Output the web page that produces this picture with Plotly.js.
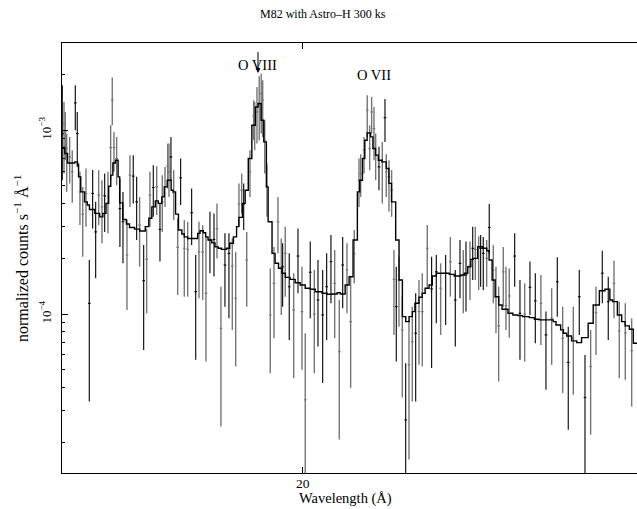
<!DOCTYPE html>
<html>
<head>
<meta charset="utf-8">
<script src="https://cdn.plot.ly/plotly-3.0.1.min.js"></script>
<style>
html,body{margin:0;padding:0;overflow:hidden;background:#fff;}
#chart{width:660px;height:509px;}
</style>
</head>
<body>
<div id="chart"></div>
<script>
// ---- Data (wavelength in Angstrom, flux in counts s^-1 A^-1) ----
const modelWl = [15.00,15.05,15.10,15.23,15.28,15.30,15.34,15.41,15.46,15.50,15.60,15.69,15.75,15.81,15.86,15.90,15.94,15.99,16.04,16.07,16.13,16.20,16.26,16.36,16.46,16.57,16.64,16.70,16.77,16.83,16.90,16.95,17.01,17.09,17.13,17.18,17.24,17.31,17.36,17.43,17.64,17.69,17.76,17.81,17.86,17.94,18.01,18.08,18.15,18.26,18.33,18.41,18.48,18.53,18.61,18.67,18.74,18.82,18.90,18.96,19.03,19.09,19.15,19.19,19.28,19.35,19.43,19.51,19.59,19.70,19.82,19.94,20.06,20.18,20.30,20.47,20.59,20.71,20.84,20.92,21.04,21.14,21.24,21.35,21.41,21.48,21.54,21.60,21.69,21.75,21.82,21.89,21.99,22.10,22.17,22.24,22.35,22.44,22.53,22.62,22.71,22.80,22.87,22.98,23.07,23.15,23.26,23.35,23.46,23.83,23.97,24.16,24.26,24.36,24.45,24.52,24.65,24.80,24.92,24.99,25.08,25.17,25.28,25.38,25.56,25.71,25.86,26.01,26.22,26.38,26.53,26.98,27.07,27.22,27.31,27.42,27.58,27.75,27.91,28.13,28.30,28.51,28.70,28.87,28.97,29.13,29.28,29.40,29.55,29.69,30.00];
const modelFlux = [8.05e-4,7.47e-4,6.64e-4,6.73e-4,6.54e-4,5.58e-4,4.62e-4,4.08e-4,3.92e-4,3.71e-4,3.53e-4,3.38e-4,3.53e-4,4.00e-4,4.96e-4,5.70e-4,6.64e-4,6.87e-4,5.58e-4,4.03e-4,3.27e-4,3.09e-4,2.96e-4,2.90e-4,2.83e-4,2.99e-4,3.32e-4,3.83e-4,4.13e-4,4.00e-4,4.34e-4,4.92e-4,5.35e-4,4.72e-4,4.62e-4,3.50e-4,2.87e-4,2.73e-4,2.63e-4,2.58e-4,2.75e-4,2.84e-4,2.77e-4,2.63e-4,2.53e-4,2.44e-4,2.32e-4,2.28e-4,2.25e-4,2.28e-4,2.43e-4,2.63e-4,2.99e-4,3.36e-4,4.00e-4,4.72e-4,7.02e-4,1.064e-3,1.339e-3,1.397e-3,1.133e-3,8.64e-4,4.92e-4,3.18e-4,2.14e-4,1.89e-4,1.775e-4,1.667e-4,1.585e-4,1.546e-4,1.482e-4,1.440e-4,1.382e-4,1.365e-4,1.324e-4,1.298e-4,1.282e-4,1.287e-4,1.308e-4,1.287e-4,1.440e-4,1.597e-4,2.53e-4,4.62e-4,5.35e-4,7.02e-4,8.83e-4,9.67e-4,9.20e-4,7.95e-4,7.32e-4,6.87e-4,6.73e-4,6.20e-4,5.14e-4,4.08e-4,2.53e-4,1.533e-4,9.69e-5,9.10e-5,9.69e-5,1.032e-4,1.146e-4,1.235e-4,1.298e-4,1.382e-4,1.440e-4,1.611e-4,1.667e-4,1.646e-4,1.611e-4,1.632e-4,1.667e-4,1.811e-4,1.986e-4,2.011e-4,2.325e-4,2.28e-4,2.212e-4,1.969e-4,1.533e-4,1.244e-4,1.122e-4,1.063e-4,1.011e-4,9.90e-5,9.81e-5,9.69e-5,9.57e-5,9.38e-5,9.30e-5,9.10e-5,8.73e-5,8.21e-5,7.87e-5,7.61e-5,7.15e-5,7.00e-5,7.45e-5,8.92e-5,1.122e-4,1.341e-4,1.365e-4,1.194e-4,1.169e-4,9.90e-5,9.10e-5,8.63e-5,8.28e-5,6.95e-5,6.95e-5];

// data set 1 (black crosses)
const blackWl = [15.005,15.240,15.276,15.497,15.560,15.616,15.785,16.075,16.134,16.333,16.400,16.538,16.729,16.863,17.086,17.285,17.514,17.599,17.901,17.988,18.225,18.312,18.638,19.526,19.680,19.887,20.180,20.368,20.483,20.581,20.686,20.979,21.908,22.066,22.366,22.619,22.891,23.331,23.461,23.726,24.000,24.135,24.309,24.505,24.739,24.816,24.994,25.766,25.929,26.240,26.408,26.747,27.111,27.469,27.833,28.024,28.609,28.814];
const blackFlux = [9.59e-4,1.408e-3,9.59e-4,1.145e-4,4.53e-4,2.80e-4,4.40e-4,3.75e-4,3.18e-4,5.63e-4,4.08e-4,1.52e-4,4.88e-4,2.89e-4,7.16e-4,5.51e-4,3.56e-4,1.324e-4,2.53e-4,2.55e-4,1.849e-4,2.14e-4,3.97e-4,1.81e-4,1.41e-4,2.07e-4,1.69e-4,1.194e-4,9.90e-5,1.41e-4,1.93e-4,1.849e-4,6.32e-4,1.17e-3,1.098e-4,2.66e-5,7.87e-5,1.37e-4,1.70e-4,1.667e-4,1.194e-4,1.89e-4,1.632e-4,2.28e-4,2.28e-4,2.14e-4,2.96e-4,2.07e-4,1.011e-4,1.40e-4,1.18e-4,7.71e-5,1.50e-4,5.46e-5,1.244e-4,3.52e-5,1.67e-4,1.169e-4];
const blackHi = [1.757e-3,1.757e-3,1.258e-3,1.97e-4,6.07e-4,4.08e-4,5.82e-4,5.46e-4,4.62e-4,7.32e-4,5.58e-4,2.375e-4,6.46e-4,4.00e-4,9.20e-4,7.02e-4,4.82e-4,2.10e-4,3.60e-4,3.53e-4,2.75e-4,2.75e-4,5.13e-4,2.43e-4,2.14e-4,2.92e-4,2.48e-4,1.97e-4,1.737e-4,2.14e-4,2.69e-4,2.63e-4,8.13e-4,1.48e-3,1.81e-4,5.41e-5,1.298e-4,2.05e-4,2.10e-4,2.10e-4,1.737e-4,2.53e-4,2.48e-4,2.99e-4,2.69e-4,2.63e-4,3.97e-4,2.75e-4,1.533e-4,1.93e-4,1.667e-4,1.032e-4,2.04e-4,8.54e-5,1.737e-4,6.00e-5,2.21e-4,1.597e-4];
const blackLo = [5.35e-4,1.0e-3,6.32e-4,3.35e-5,2.92e-4,1.565e-4,2.80e-4,2.32e-4,1.89e-4,4.00e-4,2.53e-4,6.39e-5,3.38e-4,1.93e-4,5.35e-4,3.92e-4,2.375e-4,5.64e-5,1.667e-4,1.60e-4,1.098e-4,9.49e-5,2.87e-4,1.098e-4,7.24e-5,1.298e-4,9.49e-5,6.66e-5,4.22e-5,7.24e-5,1.145e-4,1.076e-4,4.72e-4,8.64e-4,5.52e-5,1.0e-5,3.35e-5,5.09e-5,8.92e-5,8.73e-5,6.66e-5,1.22e-4,1.032e-4,1.533e-4,1.41e-4,1.353e-4,2.14e-4,1.41e-4,5.64e-5,9.90e-5,6.95e-5,3.88e-5,9.69e-5,2.35e-5,7.71e-5,1.0e-5,1.145e-4,7.24e-5];

// data set 2 (grey crosses)
const greyWl = [15.036,15.059,15.084,15.138,15.185,15.325,15.376,15.436,15.672,15.734,15.847,15.898,15.929,15.961,16.012,16.211,16.269,16.458,16.597,16.662,16.797,16.910,16.965,17.019,17.046,17.142,17.224,17.361,17.431,17.668,17.746,17.816,18.052,18.138,18.386,18.460,18.533,18.593,18.705,18.778,18.861,18.884,18.936,18.987,19.032,19.066,19.112,19.164,19.239,19.325,19.417,19.494,19.587,19.785,19.982,20.061,20.279,20.779,20.893,21.086,21.179,21.271,21.391,21.434,21.520,21.604,21.666,21.717,21.778,21.822,21.995,22.100,22.171,22.242,22.305,22.438,22.527,22.708,22.798,22.981,23.072,23.210,23.584,23.859,24.231,24.425,24.581,24.680,24.917,25.115,25.196,25.277,25.417,25.499,25.600,26.075,26.587,26.930,27.287,27.635,28.214,28.395,29.012,29.196,29.407,29.632];
const greyFlux = [1.087e-3,9.84e-4,7.95e-4,7.16e-4,5.94e-4,4.62e-4,3.49e-4,4.53e-4,4.44e-4,3.83e-4,4.34e-4,8.05e-4,1.456e-3,8.05e-4,7.02e-4,2.10e-4,5.70e-4,3.05e-4,1.99e-4,4.44e-4,4.92e-4,4.08e-4,4.92e-4,6.38e-4,5.94e-4,4.57e-4,2.31e-4,2.28e-4,2.25e-4,2.18e-4,2.18e-4,1.298e-4,2.92e-4,8.37e-5,1.83e-4,1.22e-4,3.97e-4,4.72e-4,1.97e-4,5.94e-4,1.192e-3,1.064e-3,1.258e-3,1.368e-3,1.582e-3,1.456e-3,8.83e-4,4.92e-4,9.90e-5,1.47e-4,3.18e-4,1.77e-4,2.14e-4,1.054e-4,1.032e-4,3.42e-5,1.0e-4,1.47e-4,6.25e-5,1.737e-4,9.10e-5,2.12e-4,5.35e-4,5.82e-4,7.79e-4,1.285e-3,7.95e-4,1.258e-3,1.02e-3,7.32e-4,6.73e-4,5.94e-4,5.58e-4,4.72e-4,1.546e-4,1.533e-4,8.21e-5,5.30e-5,7.08e-5,1.032e-4,1.032e-4,2.28e-4,1.382e-4,1.93e-4,1.632e-4,1.849e-4,2.25e-4,2.32e-4,2.01e-4,1.737e-4,1.244e-4,8.63e-5,1.70e-4,1.11e-4,1.255e-4,1.0e-4,1.145e-4,9.49e-5,7.39e-5,7.39e-5,5.19e-5,1.02e-4,1.47e-4,8.1e-5,7.9e-5,6.33e-5];
const greyHi = [1.425e-3,1.258e-3,9.6e-4,9.20e-4,7.79e-4,5.94e-4,4.92e-4,6.19e-4,6.07e-4,5.35e-4,5.94e-4,1.064e-3,1.934e-3,9.79e-4,9.20e-4,3.25e-4,7.32e-4,4.34e-4,2.92e-4,5.94e-4,6.38e-4,5.70e-4,6.32e-4,8.46e-4,8.46e-4,6.07e-4,3.31e-4,3.25e-4,3.18e-4,3.18e-4,3.05e-4,2.63e-4,4.00e-4,1.41e-4,2.58e-4,2.18e-4,5.13e-4,5.82e-4,2.80e-4,7.79e-4,1.456e-3,1.425e-3,1.72e-3,1.967e-3,2.03e-3,1.87e-3,1.133e-3,6.60e-4,1.77e-4,2.32e-4,4.34e-4,2.58e-4,2.99e-4,1.667e-4,1.81e-4,7.87e-5,1.737e-4,2.23e-4,1.194e-4,2.43e-4,1.597e-4,2.87e-4,7.02e-4,7.40e-4,9.20e-4,1.55e-3,1.064e-3,1.52e-3,1.339e-3,9.59e-4,8.64e-4,7.40e-4,6.87e-4,6.07e-4,2.23e-4,2.05e-4,1.244e-4,9.30e-5,1.098e-4,1.533e-4,1.667e-4,3.05e-4,1.89e-4,2.63e-4,2.23e-4,2.48e-4,2.99e-4,2.65e-4,2.53e-4,2.375e-4,1.81e-4,1.41e-4,2.32e-4,1.81e-4,1.77e-4,1.47e-4,1.632e-4,1.382e-4,1.098e-4,1.098e-4,8.21e-5,1.41e-4,1.95e-4,1.169e-4,1.145e-4,9.49e-5];
const greyLo = [5.82e-4,6.87e-4,4.62e-4,5.13e-4,4.03e-4,3.05e-4,2.05e-4,2.99e-4,3.05e-4,2.43e-4,2.75e-4,5.35e-4,1.064e-3,5.94e-4,5.03e-4,1.054e-4,3.83e-4,1.81e-4,1.011e-4,2.99e-4,3.46e-4,2.80e-4,3.83e-4,4.82e-4,4.34e-4,3.25e-4,1.271e-4,1.244e-4,1.244e-4,1.22e-4,1.194e-4,5.52e-5,2.01e-4,2.45e-5,8.21e-5,5.19e-5,2.99e-4,3.53e-4,1.098e-4,4.34e-4,8.83e-4,7.79e-4,8.46e-4,8.83e-4,9.59e-4,9.20e-4,5.82e-4,3.38e-4,4.77e-5,7.39e-5,2.14e-4,9.90e-5,1.244e-4,4.48e-5,4.98e-5,1.0e-5,4.77e-5,7.39e-5,2.08e-5,1.011e-4,3.97e-5,1.47e-4,3.83e-4,4.34e-4,5.82e-4,9.20e-4,6.07e-4,9.59e-4,6.87e-4,5.35e-4,4.00e-4,4.34e-4,3.60e-4,3.38e-4,7.71e-5,8.54e-5,3.52e-5,1.62e-5,3.35e-5,5.30e-5,5.19e-5,1.382e-4,7.71e-5,1.244e-4,1.011e-4,1.194e-4,1.533e-4,1.353e-4,1.41e-4,1.145e-4,7.87e-5,4.30e-5,1.098e-4,8.21e-5,7.45e-5,5.52e-5,6.80e-5,5.30e-5,3.72e-5,3.64e-5,2.21e-5,6.00e-5,9.49e-5,4.48e-5,4.39e-5,3.14e-5];

const yTickVals = [1e-4, 1e-3];
const yTickText = ['10<sup>\u22124</sup>', '10<sup>\u22123</sup>'];
const yMinorVals = [2e-5,3e-5,4e-5,5e-5,6e-5,7e-5,8e-5,9e-5,2e-4,3e-4,4e-4,5e-4,6e-4,7e-4,8e-4,9e-4,2e-3];
const xTickVals = [20];
const xTickText = ['20'];

// ---- build traces ----
function plusErr(v, hi) { return v.map((y, i) => hi[i] - y); }
function minusErr(v, lo) { return v.map((y, i) => y - lo[i]); }

const FONT = 'Liberation Serif';
const GREY = '#767676';

const traces = [
  {
    x: greyWl, y: greyFlux, type: 'scatter', mode: 'markers',
    marker: {size: 2, opacity: 0},
    error_y: {type: 'data', symmetric: false, array: plusErr(greyFlux, greyHi), arrayminus: minusErr(greyFlux, greyLo), color: GREY, thickness: 1.4, width: 0},
    error_x: {type: 'percent', value: 0.16, color: GREY, thickness: 1.2, width: 0},
    hoverinfo: 'skip', showlegend: false
  },
  {
    x: blackWl, y: blackFlux, type: 'scatter', mode: 'markers',
    marker: {size: 2, opacity: 0},
    error_y: {type: 'data', symmetric: false, array: plusErr(blackFlux, blackHi), arrayminus: minusErr(blackFlux, blackLo), color: '#000', thickness: 1.1, width: 0},
    error_x: {type: 'percent', value: 0.16, color: '#000', thickness: 1.1, width: 0},
    hoverinfo: 'skip', showlegend: false
  },
  {
    x: modelWl, y: modelFlux, type: 'scatter', mode: 'lines',
    line: {shape: 'hv', color: '#000', width: 1.4},
    hoverinfo: 'skip', showlegend: false
  }
];

const layout = {
  width: 660, height: 509,
  margin: {l: 62, r: 18, t: 43, b: 36, pad: 0},
  paper_bgcolor: '#fff', plot_bgcolor: '#fff',
  showlegend: false,
  font: {family: FONT, size: 13, color: '#000'},
  xaxis: {
    type: 'log', range: [Math.log10(15), Math.log10(30)],
    tickmode: 'array', tickvals: xTickVals, ticktext: xTickText,
    ticks: 'inside', ticklen: 6, tickwidth: 1, tickcolor: '#000',
    showline: true, linecolor: '#000', linewidth: 1.3, mirror: 'ticks',
    showgrid: false, zeroline: false,
    ticklabelstandoff: -3,
    tickfont: {family: FONT, size: 13.5, color: '#000'}
  },
  yaxis: {
    type: 'log', range: [-4.864, -2.5255],
    tickmode: 'array', tickvals: yTickVals, ticktext: yTickText,
    tickangle: -90,
    ticks: 'inside', ticklen: 6, tickwidth: 1, tickcolor: '#000',
    minor: {tickmode: 'array', tickvals: yMinorVals, ticks: 'inside', ticklen: 3, tickwidth: 1, tickcolor: '#000', showgrid: false},
    showline: true, linecolor: '#000', linewidth: 1.3, mirror: true,
    showgrid: false, zeroline: false,
    ticklabelstandoff: 5,
    tickfont: {family: FONT, size: 13, color: '#000'}
  },
  annotations: [
    {text: 'M82 with Astro\u2013H 300 ks', xref: 'paper', yref: 'paper', x: 0.45, y: 1.0674, xanchor: 'center', yanchor: 'middle', showarrow: false, font: {family: FONT, size: 12, color: '#000'}},
    {text: 'Wavelength (\u00c5)', xref: 'paper', yref: 'paper', x: 0.4888, y: -0.0595, xanchor: 'center', yanchor: 'middle', showarrow: false, font: {family: FONT, size: 14.5, color: '#000'}},
    {text: 'normalized counts s<sup>\u22121</sup> \u00c5<sup>\u22121</sup>', xref: 'paper', yref: 'paper', x: -0.0707, y: 0.5, textangle: -90, xanchor: 'center', yanchor: 'middle', showarrow: false, font: {family: FONT, size: 16, color: '#000'}},
    {text: ' ', xref: 'paper', yref: 'paper', x: 0.3379, y: 0.9302, ax: 0, ay: -30, showarrow: true, arrowhead: 2, arrowsize: 1, arrowwidth: 1, arrowcolor: '#000'},
    {text: 'O VIII', xref: 'paper', yref: 'paper', x: 0.3379, y: 0.950, xanchor: 'center', yanchor: 'middle', showarrow: false, font: {family: FONT, size: 14.5, color: '#000'}},
    {text: 'O VII', xref: 'paper', yref: 'paper', x: 0.5374, y: 0.9256, xanchor: 'center', yanchor: 'middle', showarrow: false, font: {family: FONT, size: 14.5, color: '#000'}}
  ]
};

Plotly.newPlot('chart', traces, layout, {staticPlot: true, displayModeBar: false});
</script>
</body>
</html>
